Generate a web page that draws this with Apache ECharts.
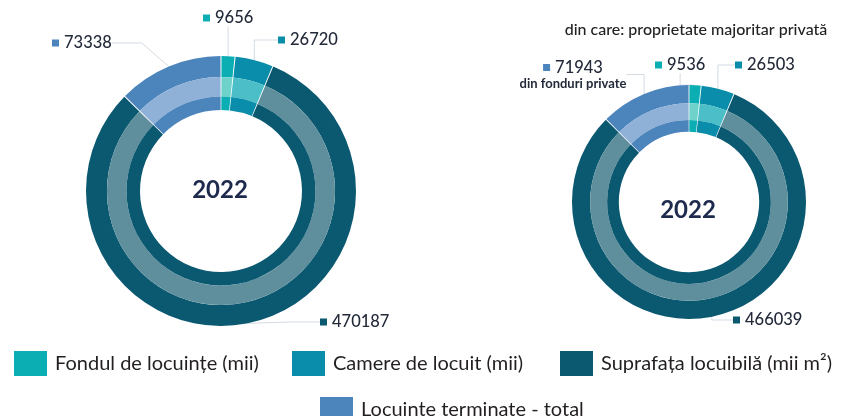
<!DOCTYPE html>
<html>
<head>
<meta charset="utf-8">
<script src="https://cdn.jsdelivr.net/npm/echarts@6/dist/echarts.min.js"></script>
<style>
  html, body { margin: 0; padding: 0; background: #fff; }
  #chart { width: 842px; height: 416px; }
</style>
</head>
<body>
<div id="chart"></div>
<script>
// Housing indicators, 2022: all completed dwellings vs. majority private ownership
const categories = [
  'Fondul de locuințe (mii)',
  'Camere de locuit (mii)',
  'Suprafața locuibilă (mii m²)',
  'Locuințe terminate - total'
];
const totalValues = [9656, 26720, 470187, 73338];
const privateValues = [9536, 26503, 466039, 71943];
const yearText = '2022';
const privateTitle = 'din care: proprietate majoritar privată';
const privateNote = 'din fonduri private';

// ring colours: outer/inner band and lighter middle band
const baseColors = ['#0BAFB3', '#0A8DAA', '#0B5871', '#4C84BC'];
const midColors = ['#6ED2CB', '#4BBEC8', '#5F8F9C', '#8FB1D8'];

const FONT = 'Lato, "Open Sans", sans-serif';
const TEXT_COLOR = '#232a3a';

function richSquares() {
  const rich = {
    v: { fontFamily: FONT, fontSize: 16.5, color: TEXT_COLOR, padding: [0, 0, 0, 5], fontWeight: 500 },
    s: { fontFamily: FONT, fontSize: 13, color: TEXT_COLOR, fontWeight: 'bold', lineHeight: 15 }
  };
  baseColors.forEach((c, i) => {
    rich['sq' + i] = { width: 7, height: 7, backgroundColor: c };
  });
  return rich;
}

function ring(values, center, radius, colors, labelCfg) {
  return {
    type: 'pie',
    center: center,
    radius: radius,
    startAngle: 90,
    clockwise: true,
    padAngle: 0.45,
    avoidLabelOverlap: false,
    silent: true,
    animation: false,
    data: values.map((v, i) => ({
      value: v,
      name: categories[i],
      itemStyle: { color: colors[i] }
    })),
    label: labelCfg ? labelCfg.label : { show: false },
    labelLine: labelCfg ? labelCfg.labelLine : { show: false },
    labelLayout: labelCfg ? labelCfg.layout : undefined
  };
}

function donut(values, center, R, labelPos, withNote) {
  const r1 = R * 0.845, r2 = R * 0.70, r3 = R * 0.60;
  const labelCfg = {
    label: {
      show: true,
      position: 'outside',
      rich: richSquares(),
      formatter: (p) => {
        let s = '{sq' + p.dataIndex + '|}{v|' + p.value + '}';
        if (withNote && p.dataIndex === 3) s += '\n{s|' + privateNote + '}';
        return s;
      }
    },
    labelLine: { show: true, lineStyle: { color: '#d3dae2', width: 1 } },
    layout: (params) => {
      const p = labelPos[params.dataIndex];
      return { x: p[0], y: p[1], align: p[2] || 'left', verticalAlign: 'middle' };
    }
  };
  return [
    ring(values, center, [r1, R], baseColors, labelCfg),
    ring(values, center, [r2, r1], midColors, null),
    ring(values, center, [r3, r2], baseColors, null)
  ];
}

const leftCenter = [221, 191];
const rightCenter = [689, 202];

const series = [].concat(
  donut(totalValues, leftCenter, 135,
    [[203, 18], [278, 40], [320, 322], [52, 43]], false),
  donut(privateValues, rightCenter, 117,
    [[655, 65], [735, 65], [733, 320], [573, 75, 'center']], true)
);

function legendItem(i, left, top) {
  return {
    data: [categories[i]],
    left: left,
    top: top,
    icon: 'rect',
    itemWidth: 33,
    itemHeight: 25,
    selectedMode: false,
    textStyle: { fontFamily: FONT, fontSize: 20, color: '#231f20', padding: [0, 0, 0, 3] }
  };
}

const chart = echarts.init(document.getElementById('chart'), null, { renderer: 'canvas' });
chart.setOption({
  animation: false,
  backgroundColor: '#fff',
  legend: [
    legendItem(0, 9, 346),
    legendItem(1, 287, 346),
    legendItem(2, 555, 346),
    legendItem(3, 315, 392)
  ],
  graphic: [
    { type: 'text', x: 220, y: 190, style: { text: yearText, fontFamily: FONT, fontSize: 24, fontWeight: 'bold', fill: '#1d2a4d', align: 'center', verticalAlign: 'middle' } },
    { type: 'text', x: 688, y: 210, style: { text: yearText, fontFamily: FONT, fontSize: 24, fontWeight: 'bold', fill: '#1d2a4d', align: 'center', verticalAlign: 'middle' } },
    { type: 'text', x: 696, y: 30, style: { text: privateTitle, fontFamily: FONT, fontSize: 16, fontWeight: 500, fill: '#222', align: 'center', verticalAlign: 'middle' } }
  ],
  series: series
});
</script>
</body>
</html>
